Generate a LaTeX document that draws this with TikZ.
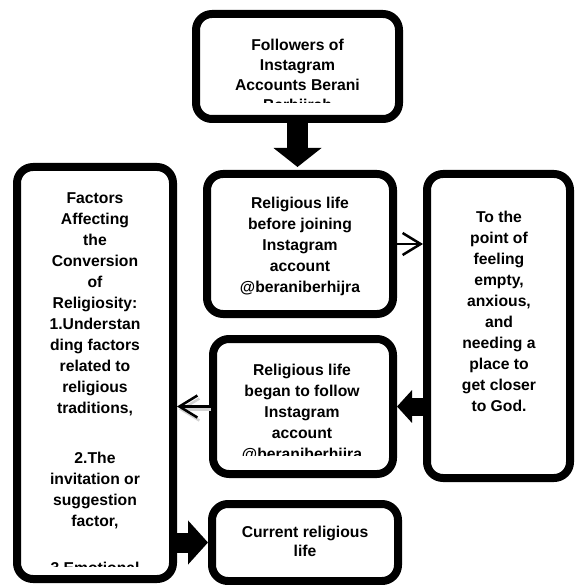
\documentclass[tikz,border=0pt]{standalone}
\usepackage{fontspec}
\setmainfont{Liberation Sans}
\usetikzlibrary{arrows.meta}
\newcommand{\boxfont}{\fontsize{15.7}{21}\selectfont\bfseries}

\begin{document}
\begin{tikzpicture}[line join=round,x=1pt,y=-1pt,
  box/.style={draw=black,line width=8pt,rounded corners=16pt,inner sep=0pt},
  boxtext/.style={align=center,inner sep=0pt,anchor=north,font=\boxfont},
  thinarrow/.style={line width=2.5pt,-{Straight Barb[length=18pt,width=22pt,line width=2.5pt]}},
  blockarrow/.style={line width=20pt,line cap=butt,-{Triangle[length=20pt,width=46pt]}}]
\useasboundingbox (0,0) rectangle (574,585);
\node[box,minimum width=203pt,minimum height=105pt] (follower) at (297.5,66.5) {};
\node[box,minimum width=186pt,minimum height=140pt] (before) at (300,244) {};
\node[box,minimum width=143pt,minimum height=304pt] (empty) at (498.5,326) {};
\node[box,minimum width=180pt,minimum height=135pt] (began) at (303,406.5) {};
\node[box,minimum width=156pt,minimum height=412pt] (factors) at (95,373) {};
\node[box,minimum width=186pt,minimum height=77pt] (current) at (305,542.5) {};
\begin{scope}
\clip (200,20) rectangle (395,103);
\node[boxtext,font=\fontsize{15.7}{20}\selectfont\bfseries] (followertext) at (297.5,36) {\strut Followers of\\Instagram\\Accounts Berani\\Berhijrah};
\end{scope}
\node[boxtext] (beforetext) at (300,193.3) {\strut Religious life\\before joining\\Instagram\\account\\@beraniberhijra};
\node[boxtext] (emptytext) at (499,207.3) {\strut To the\\point of\\feeling\\empty,\\anxious,\\and\\needing a\\place to\\get closer\\to God.};
\begin{scope}
\clip (217,343) rectangle (389,455);
\node[boxtext] (begantext) at (302,360.3) {\strut Religious life\\began to follow\\Instagram\\account\\@beraniberhijra};
\end{scope}
\begin{scope}
\clip (21,171) rectangle (169,566);
\node[boxtext] (factorstext) at (95,188.3) {\strut Factors\\Affecting\\the\\Conversion\\of\\Religiosity:\\1.Understan\\ding factors\\related to\\religious\\traditions,\\[29pt]2.The\\invitation or\\suggestion\\factor,\\[26pt]3.Emotional};
\end{scope}
\node[boxtext,font=\fontsize{15.7}{19}\selectfont\bfseries] (currenttext) at (305,523.7) {\strut Current religious\\life};
\draw[blockarrow,line width=21pt,-{Triangle[length=19pt,width=47pt]},shorten >=3pt] (follower.south) -- (follower.south |- before.north);
\draw[thinarrow] (before.east) -- (before.east -| empty.west);
\draw[blockarrow,line width=18pt,-{Triangle[length=15pt,width=32pt]}] (empty.west |- began.east) -- (began.east);
\draw[thinarrow,gray!35,transform canvas={shift={(2pt,-3pt)}}] (began.west) -- (began.west -| factors.east);
\draw[thinarrow] (began.west) -- (began.west -| factors.east);
\draw[blockarrow,-{Triangle[length=20pt,width=43pt]}] (factors.east |- current.west) -- (current.west);
\end{tikzpicture}
\end{document}
